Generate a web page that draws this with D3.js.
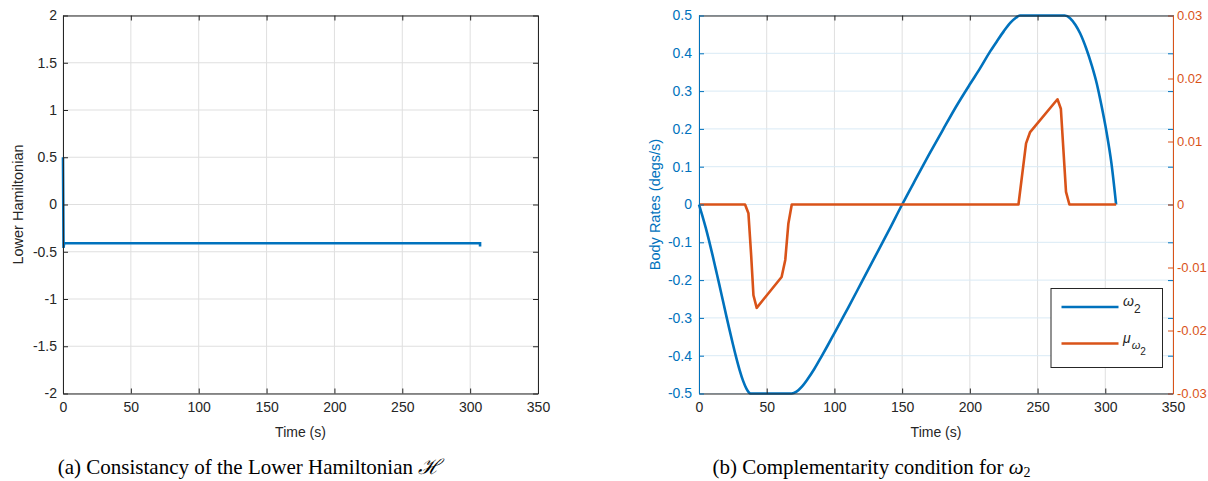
<!DOCTYPE html>
<html><head><meta charset="utf-8">
<script src="https://cdn.jsdelivr.net/npm/d3@7/dist/d3.min.js"></script>
<style>
body{margin:0;background:#fff;}
svg{display:block;font-family:"Liberation Sans",Arial,sans-serif;}
</style></head>
<body>
<svg id="chart" width="1208" height="481"></svg>
<script>
// ---------- DATA ----------
// (a) Lower Hamiltonian vs time
const hamTime  = [0, 0.4, 0.8, 2, 10, 50, 100, 150, 200, 250, 300, 307.3, 307.3];
const hamValue = [0.5, -0.46, -0.41, -0.41, -0.41, -0.41, -0.41, -0.41, -0.41, -0.41, -0.41, -0.41, -0.445];
const xTicksA = [0, 50, 100, 150, 200, 250, 300, 350];
const yTicksA = [-2, -1.5, -1, -0.5, 0, 0.5, 1, 1.5, 2];

// (b) omega_2 body rate and multiplier mu
const omegaTime  = [0, 2.5, 5, 7.5, 10, 12.5, 15, 17.5, 20, 22.5, 25, 27.5, 30, 32.5, 35, 37, 38, 68.4, 72, 76, 80, 85, 90, 95, 100, 105, 110, 120, 130, 140, 150, 160, 170, 180, 190, 200, 207.5, 215, 220, 225, 230, 234, 237, 270, 274, 278, 281.4, 286, 290, 293.7, 297, 301, 304.5, 308];
const omegaValue = [0, -0.03, -0.062, -0.097, -0.134, -0.173, -0.212, -0.252, -0.292, -0.331, -0.369, -0.405, -0.438, -0.466, -0.487, -0.498, -0.5, -0.5, -0.495, -0.482, -0.463, -0.436, -0.405, -0.373, -0.34, -0.307, -0.274, -0.206, -0.138, -0.07, 0, 0.067, 0.133, 0.197, 0.26, 0.318, 0.36, 0.405, 0.432, 0.458, 0.481, 0.494, 0.5, 0.5, 0.493, 0.475, 0.453, 0.412, 0.368, 0.32, 0.265, 0.19, 0.11, 0];
const muTime  = [0, 34, 36.5, 38.5, 40.2, 42.6, 61, 63.7, 66, 68.5, 235.9, 241.5, 244.5, 264.7, 267.2, 271, 273.5, 308];
const muValue = [0, 0, -0.0014, -0.008, -0.0144, -0.0164, -0.0115, -0.0088, -0.003, 0, 0, 0.0097, 0.0115, 0.0167, 0.0152, 0.002, 0, 0];
const xTicksB = [0, 50, 100, 150, 200, 250, 300, 350];
const yTicksBLeft  = [-0.5, -0.4, -0.3, -0.2, -0.1, 0, 0.1, 0.2, 0.3, 0.4, 0.5];
const yTicksBRight = [-0.03, -0.02, -0.01, 0, 0.01, 0.02, 0.03];

// ---------- STYLE ----------
const AX = "#262626", BLUE = "#0072BD", ORANGE = "#D95319";
const GRID = "#dfdfdf", GRIDBLUE = "#d9eaf5";
const FS = 14, TICK = 5;
const svg = d3.select("#chart");

function fmt(v){ return (Math.round(v*1000)/1000).toString(); }

// ---------- PANEL A ----------
const A = {l:63, r:538, t:15.5, b:393.5};
const xa = d3.scaleLinear().domain([0,350]).range([A.l, A.r]);
const ya = d3.scaleLinear().domain([-2,2]).range([A.b, A.t]);
const ga = svg.append("g");

ga.selectAll(".gv").data(xTicksA).join("line")
  .attr("x1", d=>xa(d)).attr("x2", d=>xa(d)).attr("y1", A.t).attr("y2", A.b)
  .attr("stroke", GRID).attr("stroke-width", 1);
ga.selectAll(".gh").data(yTicksA).join("line")
  .attr("x1", A.l).attr("x2", A.r).attr("y1", d=>ya(d)).attr("y2", d=>ya(d))
  .attr("stroke", GRID).attr("stroke-width", 1);

const hamData = hamTime.map((t,i)=>[t, hamValue[i]]);
ga.append("path").datum(hamData)
  .attr("d", d3.line().x(d=>xa(d[0])).y(d=>ya(d[1])))
  .attr("fill","none").attr("stroke", BLUE).attr("stroke-width", 2.6)
  .attr("stroke-linejoin","miter");

function styleAxis(g, color, fs){
  g.select(".domain").attr("stroke", color).attr("stroke-width", 1);
  g.selectAll(".tick line").attr("stroke", color);
  g.selectAll(".tick text").attr("fill", color).attr("font-size", fs || FS)
    .attr("font-family", '"Liberation Sans",Arial,sans-serif');
}
function box(g, S, xs, xt){
  const bottom = g.append("g").attr("transform", `translate(0,${S.b})`)
    .call(d3.axisBottom(xs).tickValues(xt).tickFormat(fmt).tickSize(-TICK).tickPadding(9).tickSizeOuter(0));
  styleAxis(bottom, AX);
  const top = g.append("g").attr("transform", `translate(0,${S.t})`)
    .call(d3.axisTop(xs).tickValues(xt).tickFormat("").tickSize(-TICK).tickSizeOuter(0));
  styleAxis(top, AX);
}

box(ga, A, xa, xTicksA);
const la = ga.append("g").attr("transform", `translate(${A.l},0)`)
  .call(d3.axisLeft(ya).tickValues(yTicksA).tickFormat(fmt).tickSize(-TICK).tickPadding(6).tickSizeOuter(0));
styleAxis(la, AX);
const ra = ga.append("g").attr("transform", `translate(${A.r},0)`)
  .call(d3.axisRight(ya).tickValues(yTicksA).tickFormat("").tickSize(-TICK).tickSizeOuter(0));
styleAxis(ra, AX);

ga.append("text").attr("x", (A.l+A.r)/2).attr("y", 437).attr("text-anchor","middle")
  .attr("font-size", FS).attr("fill", AX).text("Time (s)");
ga.append("text").attr("transform", `translate(23,${(A.t+A.b)/2}) rotate(-90)`)
  .attr("text-anchor","middle").attr("font-size", 14.5).attr("fill", AX).text("Lower Hamiltonian");

// ---------- PANEL B ----------
const B = {l:699, r:1173, t:15.5, b:393.5};
const xb = d3.scaleLinear().domain([0,350]).range([B.l, B.r]);
const ybl = d3.scaleLinear().domain([-0.5,0.5]).range([B.b, B.t]);
const ybr = d3.scaleLinear().domain([-0.03,0.03]).range([B.b, B.t]);
const gb = svg.append("g");

gb.selectAll(".gv").data(xTicksB).join("line")
  .attr("x1", d=>xb(d)).attr("x2", d=>xb(d)).attr("y1", B.t).attr("y2", B.b)
  .attr("stroke", GRID).attr("stroke-width", 1);
gb.selectAll(".gh").data(yTicksBLeft).join("line")
  .attr("x1", B.l).attr("x2", B.r).attr("y1", d=>ybl(d)).attr("y2", d=>ybl(d))
  .attr("stroke", GRIDBLUE).attr("stroke-width", 1);

const omegaData = omegaTime.map((t,i)=>[t, omegaValue[i]]);
const muData = muTime.map((t,i)=>[t, muValue[i]]);
gb.append("path").datum(omegaData)
  .attr("d", d3.line().curve(d3.curveMonotoneX).x(d=>xb(d[0])).y(d=>ybl(d[1])))
  .attr("fill","none").attr("stroke", BLUE).attr("stroke-width", 2.6);
gb.append("path").datum(muData)
  .attr("d", d3.line().x(d=>xb(d[0])).y(d=>ybr(d[1])))
  .attr("fill","none").attr("stroke", ORANGE).attr("stroke-width", 2.6).attr("stroke-linejoin","round");

box(gb, B, xb, xTicksB);
const lb = gb.append("g").attr("transform", `translate(${B.l},0)`)
  .call(d3.axisLeft(ybl).tickValues(yTicksBLeft).tickFormat(fmt).tickSize(-TICK).tickPadding(7).tickSizeOuter(0));
styleAxis(lb, BLUE);
const rbMirror = gb.append("g").attr("transform", `translate(${B.r},0)`)
  .call(d3.axisRight(ybl).tickValues(yTicksBLeft).tickFormat("").tickSize(-TICK).tickSizeOuter(0));
styleAxis(rbMirror, BLUE);
rbMirror.select(".domain").remove();
const rb = gb.append("g").attr("transform", `translate(${B.r},0)`)
  .call(d3.axisRight(ybr).tickValues(yTicksBRight).tickFormat(fmt).tickSize(-TICK).tickPadding(4).tickSizeOuter(0));
styleAxis(rb, ORANGE, 13);

gb.append("text").attr("x", (B.l+B.r)/2).attr("y", 437).attr("text-anchor","middle")
  .attr("font-size", FS).attr("fill", AX).text("Time (s)");
gb.append("text").attr("transform", `translate(660,${(B.t+B.b)/2}) rotate(-90)`)
  .attr("text-anchor","middle").attr("font-size", 14.5).attr("fill", BLUE).text("Body Rates (degs/s)");

// legend
const L = {x:1051, y:288.5, w:111.5, h:79};
const lg = gb.append("g");
lg.append("rect").attr("x", L.x).attr("y", L.y).attr("width", L.w).attr("height", L.h)
  .attr("fill","#fff").attr("stroke", AX).attr("stroke-width", 1);
lg.append("line").attr("x1", 1061.5).attr("x2", 1118.5).attr("y1", 307).attr("y2", 307)
  .attr("stroke", BLUE).attr("stroke-width", 2.6);
lg.append("line").attr("x1", 1061.5).attr("x2", 1118.5).attr("y1", 343.5).attr("y2", 343.5)
  .attr("stroke", ORANGE).attr("stroke-width", 2.6);
const t1 = lg.append("text").attr("x", 1123).attr("y", 306).attr("font-size", FS).attr("fill", AX);
t1.append("tspan").attr("font-style","italic").text("ω");
t1.append("tspan").attr("dy", 7).attr("font-size", 12).text("2");
const t2 = lg.append("text").attr("x", 1123).attr("y", 343).attr("font-size", FS).attr("fill", AX);
t2.append("tspan").attr("font-style","italic").text("μ");
t2.append("tspan").attr("dy", 6).attr("dx", 1).attr("font-size", 11).attr("font-style","italic").text("ω");
t2.append("tspan").attr("dy", 6).attr("font-size", 10).text("2");

// ---------- CAPTIONS ----------
const capFont = '"Liberation Serif","Times New Roman",serif';
const capA = svg.append("text").attr("x", 249).attr("y", 474).attr("text-anchor","middle")
  .attr("font-family", capFont).attr("font-size", 21).attr("fill","#000");
capA.append("tspan").text("(a)  Consistancy of the Lower Hamiltonian ");
capA.append("tspan").attr("font-family",'"DejaVu Serif",serif').attr("font-style","italic").text("ℋ");
const capB = svg.append("text").attr("x", 871.5).attr("y", 474).attr("text-anchor","middle")
  .attr("font-family", capFont).attr("font-size", 21).attr("fill","#000");
capB.append("tspan").text("(b)  Complementarity condition for ");
capB.append("tspan").attr("font-style","italic").text("ω");
capB.append("tspan").attr("dy", 3).attr("font-size", 14).text("2");
</script>
</body></html>
